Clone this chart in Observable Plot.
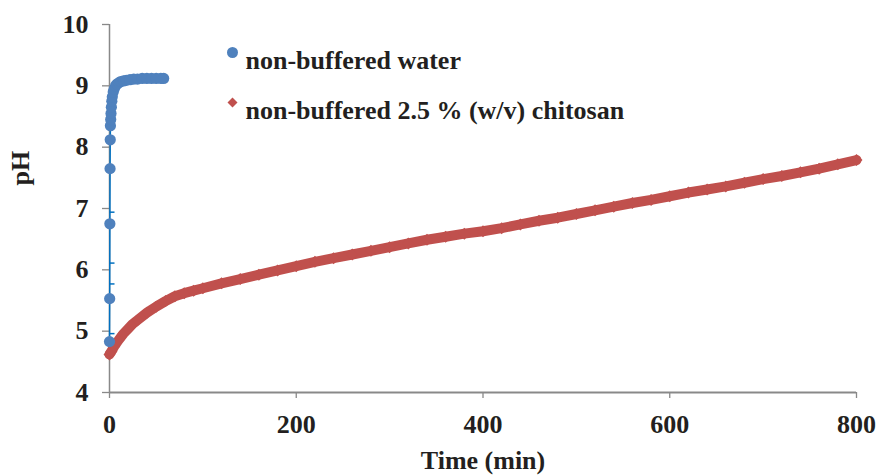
<!DOCTYPE html>
<html>
<head>
<meta charset="utf-8">
<script src="https://cdn.jsdelivr.net/npm/d3@7"></script>
<script src="https://cdn.jsdelivr.net/npm/@observablehq/plot@0.6"></script>
<style>
  html, body { margin: 0; padding: 0; background: #fff; }
  #chart svg { display: block; }
  #chart svg text { font-family: 'Liberation Serif', 'Times New Roman', serif; }
</style>
</head>
<body>
<div id="chart"></div>
<script>
// ---- data ----
const seriesNames = ["non-buffered water", "non-buffered 2.5 % (w/v) chitosan"];

const waterTime = [0, 0.2, 0.4, 0.6, 0.8, 1.0, 1.3, 1.6, 2, 2.5, 3, 4, 5, 6.5, 8, 10, 12, 15, 18, 22, 26, 30, 35, 40, 45, 50, 55, 58];
const waterPH   = [4.83, 5.53, 6.75, 7.65, 8.12, 8.35, 8.45, 8.55, 8.65, 8.75, 8.82, 8.9, 8.95, 9.0, 9.03, 9.05, 9.07, 9.08, 9.09, 9.1, 9.11, 9.11, 9.12, 9.12, 9.12, 9.12, 9.12, 9.12];
const waterErrCaps = [4.96, 5.77, 6.11, 6.94];

const chitosanTime = [0, 2, 5, 10, 15, 20, 25, 30, 40, 50, 60, 70, 80, 90, 100, 120, 140, 160, 180, 200, 220, 240, 260, 280, 300, 320, 340, 360, 380, 400, 420, 440, 460, 480, 500, 520, 540, 560, 580, 600, 620, 640, 660, 680, 700, 720, 740, 760, 780, 800];
const chitosanPH   = [4.62, 4.67, 4.75, 4.86, 4.96, 5.04, 5.12, 5.18, 5.3, 5.4, 5.49, 5.57, 5.62, 5.66, 5.70, 5.78, 5.85, 5.92, 5.99, 6.06, 6.13, 6.19, 6.25, 6.31, 6.37, 6.43, 6.49, 6.54, 6.59, 6.63, 6.68, 6.74, 6.80, 6.85, 6.91, 6.97, 7.03, 7.09, 7.14, 7.20, 7.26, 7.31, 7.36, 7.42, 7.48, 7.53, 7.59, 7.65, 7.72, 7.79];

const xTicks = [0, 200, 400, 600, 800];
const yTicks = [4, 5, 6, 7, 8, 9, 10];
const xLabel = "Time (min)";
const yLabel = "pH";

// ---- build tables ----
const water = waterTime.map((t, i) => ({t, pH: waterPH[i]}));
const chitosan = chitosanTime.map((t, i) => ({t, pH: chitosanPH[i]}));
const caps = waterErrCaps.map(pH => ({t: 0, pH}));

const BLUE = "#4F81BD", BLUE_LINE = "#0070C0", RED = "#C0504D", GRAY = "#898989", INK = "#231f20";
const FONT = "'Liberation Serif', 'Times New Roman', serif";

const capSymbol = { draw(ctx, size) { ctx.moveTo(0, 0); ctx.lineTo(5, 0); } };
// square rotated 45° (Excel-style diamond marker)
const rhombus = { draw(ctx, size) { const h = Math.sqrt(size / Math.PI) ; ctx.moveTo(0, -h); ctx.lineTo(h, 0); ctx.lineTo(0, h); ctx.lineTo(-h, 0); ctx.closePath(); } };

const txt = {fontWeight: "bold", fontFamily: FONT, fill: INK};

const chart = Plot.plot({
  width: 877,
  height: 475,
  marginLeft: 109,
  marginRight: 21,
  marginTop: 24,
  marginBottom: 83,
  style: { fontFamily: FONT, background: "#fff" },
  x: { domain: [0, 800] },
  y: { domain: [4, 10] },
  marks: [
    Plot.axisX({ticks: xTicks, tickSize: 6, tickPadding: 16, stroke: GRAY, strokeWidth: 1.3,
                 fontSize: 26, ...txt, label: null, tickFormat: d => String(d)}),
    Plot.axisY({ticks: yTicks, tickSize: 7, tickPadding: 14, stroke: GRAY, strokeWidth: 1.3,
                fontSize: 26, ...txt, label: null, tickFormat: d => String(d)}),
    Plot.ruleX([0], {stroke: GRAY, strokeWidth: 1.5}),
    Plot.ruleY([4], {stroke: GRAY, strokeWidth: 2}),
    // chitosan series: dense diamond markers forming a band
    Plot.line(chitosan, {x: "t", y: "pH", stroke: RED, strokeWidth: 10}),
    Plot.dot(chitosan, {x: "t", y: "pH", symbol: rhombus, r: 6, fill: RED}),
    // water series
    Plot.line(water, {x: "t", y: "pH", stroke: BLUE_LINE, strokeWidth: 1.5}),
    Plot.dot(caps, {x: "t", y: "pH", symbol: capSymbol, r: 3, stroke: BLUE_LINE, strokeWidth: 1.5, fill: "none"}),
    Plot.dot(water, {x: "t", y: "pH", r: 5.6, fill: BLUE}),
    // axis titles
    Plot.text([xLabel], {text: d => d, frameAnchor: "bottom", dy: 76, fontSize: 26, ...txt}),
    Plot.text([yLabel], {text: d => d, frameAnchor: "left", dx: -89, dy: -23, rotate: -90, fontSize: 26, ...txt}),
    // legend
    Plot.dot([seriesNames[0]], {frameAnchor: "top-left", dx: 123, dy: 28, r: 5.5, fill: BLUE}),
    Plot.dot([seriesNames[1]], {frameAnchor: "top-left", dx: 123, dy: 78, r: 5, symbol: rhombus, fill: RED}),
    Plot.text([seriesNames[0]], {text: d => d, frameAnchor: "top-left", dx: 136, dy: 26, textAnchor: "start", fontSize: 26, ...txt}),
    Plot.text([seriesNames[1]], {text: d => d, frameAnchor: "top-left", dx: 136, dy: 76, textAnchor: "start", fontSize: 26, ...txt})
  ]
});
document.getElementById("chart").appendChild(chart);
</script>
</body>
</html>
